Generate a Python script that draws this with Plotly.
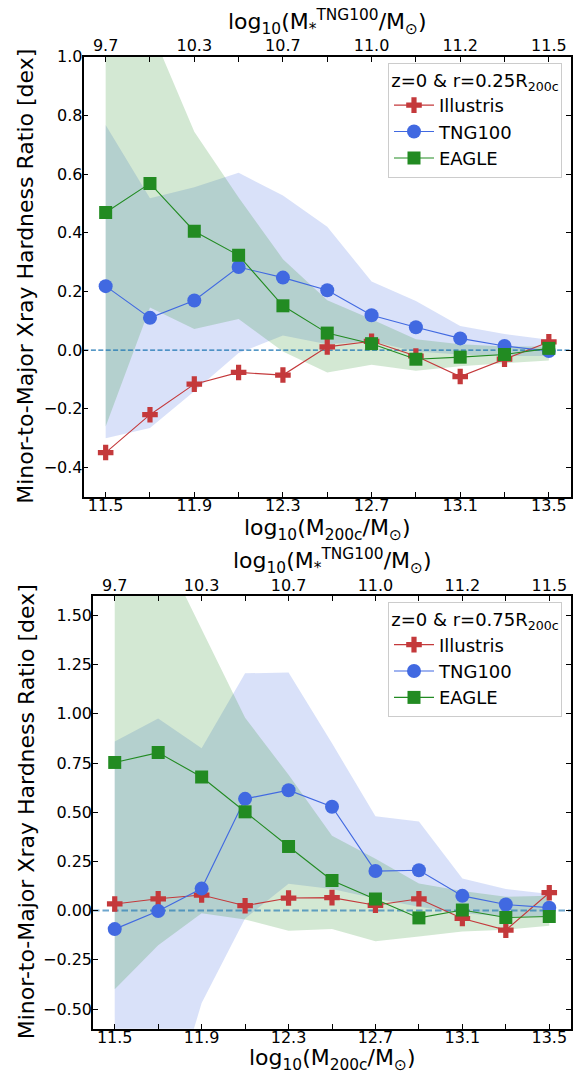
import plotly.graph_objects as go

# ---------------- data ----------------
X_M200 = [11.5, 11.7, 11.9, 12.1, 12.3, 12.5, 12.7, 12.9, 13.1, 13.3, 13.5]
X_RANGE = [11.4, 13.6]
LABELED_TICKS = [11.5, 11.9, 12.3, 12.7, 13.1, 13.5]
BOTTOM_TICKTEXT = ["11.5", "11.9", "12.3", "12.7", "13.1", "13.5"]
TOP_TICKTEXT = ["9.7", "10.3", "10.7", "11.0", "11.2", "11.5"]
MINOR_STEP = 0.2
ZERO_Y = [0, 0]

# panel 1 : r = 0.25 R200c
ILL_1 = [-0.349, -0.22, -0.116, -0.076, -0.085, 0.011, 0.03, -0.02, -0.09, -0.031, 0.028]
TNG_1 = [0.218, 0.110, 0.169, 0.283, 0.247, 0.204, 0.119, 0.078, 0.040, 0.014, -0.003]
EAG_1 = [0.469, 0.568, 0.405, 0.323, 0.151, 0.058, 0.022, -0.031, -0.024, -0.015, 0.006]
TNG_UP_1 = [0.767, 0.517, 0.555, 0.604, 0.527, 0.42, 0.234, 0.167, 0.082, 0.055, 0.035]
TNG_LO_1 = [-0.30, -0.265, -0.14, -0.01, 0.05, 0.02, 0.03, -0.005, -0.015, -0.02, -0.02]
EAG_UP_1 = [1.25, 1.10, 0.744, 0.52, 0.31, 0.17, 0.105, 0.037, 0.02, 0.012, 0.012]
EAG_LO_1 = [-0.26, 0.145, 0.072, 0.106, -0.005, -0.076, -0.05, -0.07, -0.055, -0.045, -0.035]

# panel 2 : r = 0.75 R200c
ILL_2 = [0.034, 0.060, 0.079, 0.025, 0.064, 0.066, 0.027, 0.060, -0.040, -0.099, 0.091]
TNG_2 = [-0.094, -0.002, 0.112, 0.568, 0.612, 0.528, 0.201, 0.205, 0.075, 0.031, 0.015]
EAG_2 = [0.753, 0.803, 0.679, 0.502, 0.326, 0.153, 0.059, -0.037, 0.003, -0.035, -0.03]
TNG_UP_2 = [0.86, 0.976, 0.825, 1.206, 1.21, 0.85, 0.48, 0.453, 0.163, 0.11, 0.085]
TNG_LO_2 = [-1.3, -1.2, -0.47, -0.04, 0.137, 0.11, 0.062, 0.02, -0.013, -0.03, -0.03]
EAG_UP_2 = [2.0, 1.88, 1.43, 0.98, 0.69, 0.38, 0.263, 0.138, 0.10, 0.07, 0.075]
EAG_LO_2 = [-0.40, -0.176, -0.013, -0.045, -0.102, -0.094, -0.156, -0.131, -0.106, -0.097, -0.077]

# ---------------- style ----------------
W, H = 578, 1076
FONT = "DejaVu Sans"
RED = "#c4393b"
BLUE = "#4169e1"
GREEN = "#228b22"
BLUE_FILL = "rgba(65,105,225,0.2)"
GREEN_FILL = "rgba(34,139,34,0.2)"


def px_x(p):
    return p / W


def px_y(p):
    return 1 - p / H


panels = [
    dict(ill=ILL_1, tng=TNG_1, eag=EAG_1, tup=TNG_UP_1, tlo=TNG_LO_1, eup=EAG_UP_1, elo=EAG_LO_1,
         xa="x", ya="y", xtop="x2", legend="legend", zero_w=1.4, zero_c="rgb(31,119,180)", zero_dash="5px,2.4px"),
    dict(ill=ILL_2, tng=TNG_2, eag=EAG_2, tup=TNG_UP_2, tlo=TNG_LO_2, eup=EAG_UP_2, elo=EAG_LO_2,
         xa="x3", ya="y3", xtop="x4", legend="legend2", zero_w=2.0, zero_c="rgba(31,119,180,0.65)", zero_dash="6.5px,3px"),
]

fig = go.Figure()

for p in panels:
    poly_x = X_M200 + X_M200[::-1]
    fig.add_trace(go.Scatter(x=poly_x, y=p["tup"] + p["tlo"][::-1], fill="toself", fillcolor=BLUE_FILL,
                             line=dict(width=0), mode="lines", showlegend=False, hoverinfo="skip",
                             xaxis=p["xa"], yaxis=p["ya"]))
    fig.add_trace(go.Scatter(x=poly_x, y=p["eup"] + p["elo"][::-1], fill="toself", fillcolor=GREEN_FILL,
                             line=dict(width=0), mode="lines", showlegend=False, hoverinfo="skip",
                             xaxis=p["xa"], yaxis=p["ya"]))
    fig.add_trace(go.Scatter(x=X_RANGE, y=ZERO_Y, mode="lines", showlegend=False, hoverinfo="skip",
                             line=dict(color=p["zero_c"], width=p["zero_w"], dash=p["zero_dash"]),
                             xaxis=p["xa"], yaxis=p["ya"]))
    fig.add_trace(go.Scatter(x=X_M200, y=p["ill"], mode="lines+markers", name="Illustris",
                             line=dict(color=RED, width=1.1),
                             marker=dict(symbol="cross", size=13, color=RED),
                             xaxis=p["xa"], yaxis=p["ya"], legend=p["legend"]))
    fig.add_trace(go.Scatter(x=X_M200, y=p["tng"], mode="lines+markers", name="TNG100",
                             line=dict(color=BLUE, width=1.1),
                             marker=dict(symbol="circle", size=14, color=BLUE),
                             xaxis=p["xa"], yaxis=p["ya"], legend=p["legend"]))
    fig.add_trace(go.Scatter(x=X_M200, y=p["eag"], mode="lines+markers", name="EAGLE",
                             line=dict(color=GREEN, width=1.1),
                             marker=dict(symbol="square", size=13, color=GREEN),
                             xaxis=p["xa"], yaxis=p["ya"], legend=p["legend"]))
    # invisible trace to carry the top (stellar mass) axis
    fig.add_trace(go.Scatter(x=X_M200, y=[None] * len(X_M200), mode="markers", showlegend=False,
                             hoverinfo="skip", xaxis=p["xtop"], yaxis=p["ya"]))

tickfont = dict(family=FONT, size=16, color="black")

common_x = dict(range=X_RANGE, tickmode="array", tickvals=LABELED_TICKS, ticks="inside", ticklen=5,
                tickwidth=1, tickcolor="black", tickfont=tickfont, showgrid=False, zeroline=False,
                minor=dict(ticks="inside", ticklen=5, tickwidth=1, tickcolor="black",
                           tickmode="linear", tick0=X_M200[0], dtick=MINOR_STEP, showgrid=False))
common_y = dict(ticks="inside", ticklen=5, tickwidth=1, tickcolor="black", tickfont=tickfont,
                showgrid=False, zeroline=False, showline=True, linecolor="black", linewidth=1.5,
                mirror="ticks", ticklabelstandoff=-4)

dom_x1 = [px_x(83.5), px_x(571)]
dom_y1 = [px_y(492), px_y(48)]
dom_x2 = [px_x(93), px_x(571)]
dom_y2 = [px_y(1028.3), px_y(591.7)]

legend_common = dict(xanchor="right", yanchor="top", bgcolor="rgba(255,255,255,0.85)",
                     bordercolor="#cccccc", borderwidth=1, itemwidth=40,
                     font=dict(family=FONT, size=18, color="black"))

fig.update_layout(
    width=W, height=H,
    margin=dict(l=0, r=0, t=0, b=0),
    paper_bgcolor="white", plot_bgcolor="white",
    font=dict(family=FONT, color="black"),
    xaxis=dict(domain=dom_x1, anchor="y", ticktext=BOTTOM_TICKTEXT, showline=True, linecolor="black",
               linewidth=1.5, mirror=True, ticklabelstandoff=-7, **common_x),
    xaxis2=dict(overlaying="x", anchor="y", side="top", ticktext=TOP_TICKTEXT, showline=False,
                ticklabelstandoff=1, **common_x),
    yaxis=dict(domain=dom_y1, anchor="x", range=[-0.5, 1.0], tickmode="linear", tick0=0, dtick=0.2,
               tickformat=".1f", **common_y),
    xaxis3=dict(domain=dom_x2, anchor="y3", ticktext=BOTTOM_TICKTEXT, showline=True, linecolor="black",
                linewidth=1.5, mirror=True, ticklabelstandoff=-7, **common_x),
    xaxis4=dict(overlaying="x3", anchor="y3", side="top", ticktext=TOP_TICKTEXT, showline=False,
                ticklabelstandoff=1, **common_x),
    yaxis3=dict(domain=dom_y2, anchor="x3", range=[-0.6, 1.6], tickmode="linear", tick0=0, dtick=0.25,
                tickformat=".2f", **common_y),
    legend=dict(x=px_x(562), y=px_y(54),
                title=dict(text="z=0 & r=0.25R<sub>200c</sub>", side="top center",
                           font=dict(family=FONT, size=18, color="black")), **legend_common),
    legend2=dict(x=px_x(562), y=px_y(598),
                 title=dict(text="z=0 & r=0.75R<sub>200c</sub>", side="top center",
                            font=dict(family=FONT, size=18, color="black")), **legend_common),
)

title_font = dict(family=FONT, size=22, color="black")
YTITLE = "Minor-to-Major Xray Hardness Ratio [dex]"
XTITLE = "log<sub>10</sub>(M<sub>200c</sub>/M<sub>⊙</sub>)"
XTOPTITLE = "log<sub>10</sub>(M<sub>*</sub><sup>TNG100</sup>/M<sub>⊙</sub>)"

annos = [
    (px_x(26), px_y(270), YTITLE, -90),
    (px_x(26), px_y(810), YTITLE, -90),
    (px_x(327), px_y(525), XTITLE, 0),
    (px_x(327), px_y(13), XTOPTITLE, 0),
    (px_x(332), px_y(1059), XTITLE, 0),
    (px_x(332), px_y(557), XTOPTITLE, 0),
]
for ax, ay, txt, ang in annos:
    fig.add_annotation(x=ax, y=ay, xref="paper", yref="paper", text=txt, showarrow=False,
                       textangle=ang, font=title_font, xanchor="center", yanchor="middle")

fig.write_html("out.html")
